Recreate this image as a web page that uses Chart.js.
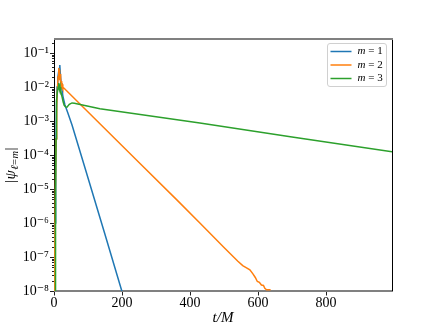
<!DOCTYPE html>
<html>
<head>
<meta charset="utf-8">
<script src="https://cdn.jsdelivr.net/npm/chart.js@4.4.1/dist/chart.umd.min.js"></script>
<style>
html,body{margin:0;padding:0;background:#fff}
#wrap{width:436px;height:327px}
</style>
</head>
<body>
<div id="wrap"><canvas id="chart" width="436" height="327"></canvas></div>
<script>
// ---- data ----
const seriesLabels=['m = 1','m = 2','m = 3'];
const seriesColors=['#1f77b4','#ff7f0e','#2ca02c'];

const tM1=[0,3,5,7,9,11,13,15,17,19,21,23,26,29,32,40,53,91,150,205];
const vM1=[1e-9,1e-6,5e-5,2e-3,1e-2,1.8e-2,2.5e-2,3.5e-2,4.4e-2,2.2e-2,1.3e-2,9e-3,5.5e-3,4e-3,3e-3,1.8e-3,7.6e-4,4.2e-5,4.6e-7,6.5e-9];

const tM2=[0,2,4,6,8,10,12,14,15,16,17,18,19,20,21,22,23,24,26,29,135,250,362,429,500,540,555,565,576,585,592,598,604,610,616,620,625,637];
const vM2=[1e-9,1e-7,1e-5,3e-4,3e-3,8e-3,2e-2,3.6e-2,2.2e-2,3.2e-2,1.6e-2,2.4e-2,1.3e-2,1.8e-2,1.1e-2,1.5e-2,1.0e-2,1.2e-2,9.8e-3,9.3e-3,8.3e-4,6e-5,4.7e-6,1e-6,1.9e-7,7.6e-8,5.6e-8,4.9e-8,4.2e-8,3.2e-8,2.5e-8,1.9e-8,1.8e-8,1.5e-8,1.45e-8,1.2e-8,1.08e-8,1.08e-8];

const tM3=[0,3,4,5,6,7,8,10,12,14,15,16,17,18,19,20,22,24,27,30,34,38,45,53,60,135,429,700,994];
const vM3=[1e-10,1e-9,1e-7,1e-5,3e-4,1.5e-3,4e-3,7e-3,1.0e-2,1.3e-2,9e-3,1.2e-2,8e-3,1.0e-2,7e-3,8e-3,6e-3,5e-3,3.6e-3,2.9e-3,2.6e-3,2.55e-3,3.1e-3,3.4e-3,3.35e-3,2.3e-3,8.7e-4,3.4e-4,1.25e-4];

const xTicks=[0,200,400,600,800];
const yDecades=[-8,-7,-6,-5,-4,-3,-2,-1];
const yMinor=[2,3,4,5,6,7,8,9];
const xMin=0,xMax=994,yMin=1e-8,yMax=0.258;

// ---- helpers ----
const serif='"Liberation Serif","DejaVu Serif",serif';
const supMap={'-':'\u207B','0':'\u2070','1':'\u00B9','2':'\u00B2','3':'\u00B3','4':'\u2074','5':'\u2075','6':'\u2076','7':'\u2077','8':'\u2078','9':'\u2079'};
const sup=s=>String(s).split('').map(c=>supMap[c]||c).join('');

const series=[[tM1,vM1],[tM2,vM2],[tM3,vM3]];

// spines and outward tick marks like matplotlib
const framePlugin={
  id:'frame',
  beforeDatasetsDraw(chart){
    const {ctx,chartArea:a}=chart;
    ctx.save();
    ctx.fillStyle='#808080';
    ctx.fillRect(a.left,a.bottom-1,a.right-a.left+1,2);
    ctx.fillStyle='#000';
    ctx.fillRect(a.left,a.top-1,1,a.bottom-a.top+1);
    ctx.restore();
  },
  afterDatasetsDraw(chart){
    const {ctx,chartArea:a,scales:{x,y}}=chart;
    ctx.save();
    ctx.fillStyle='#222';
    x.ticks.forEach(t=>{
      const px=Math.round(x.getPixelForValue(t.value));
      ctx.fillRect(px,a.bottom+1,1,3.5);
    });
    y.ticks.forEach(t=>{
      const py=Math.round(y.getPixelForValue(t.value));
      const len=t.big?4:2;
      ctx.fillRect(a.left-len,py,len,1);
    });
    ctx.fillStyle='#000';
    ctx.fillRect(a.right,a.top-1,1,a.bottom-a.top+1);
    ctx.fillStyle='#808080';
    ctx.fillRect(a.left,a.top-1,a.right-a.left+1,2);
    ctx.restore();
  },
  afterDraw(chart){
    const {ctx,chartArea:a}=chart;
    ctx.save();
    // y axis title |psi_{l=m}|
    ctx.translate(15,165);
    ctx.rotate(-Math.PI/2);
    ctx.fillStyle='#000';
    ctx.textBaseline='alphabetic';
    const big='15px '+serif, bigI='italic 15px '+serif, small='italic 10.5px '+serif;
    const parts=[['|',big,0],['\u03C8',bigI,0],['\u2113',small,3],['=',('10.5px '+serif),3],['m',small,3],['|',big,0]];
    let w=0;
    parts.forEach(p=>{ctx.font=p[1];w+=ctx.measureText(p[0]).width+0.5;});
    let cx=-w/2;
    parts.forEach(p=>{ctx.font=p[1];ctx.fillText(p[0],cx,p[2]);cx+=ctx.measureText(p[0]).width+0.5;});
    ctx.restore();

    // legend box in the upper right
    ctx.save();
    const bx=a.right-64.5,by=a.top+4.5,bw=59,bh=43;
    ctx.beginPath();
    ctx.roundRect(bx,by,bw,bh,2.5);
    ctx.fillStyle='rgba(255,255,255,0.8)';
    ctx.fill();
    ctx.strokeStyle='#d0d0d0';
    ctx.lineWidth=1;
    ctx.stroke();
    chart.data.datasets.forEach((ds,i)=>{
      const ry=by+8+i*13.5;
      ctx.strokeStyle=ds.borderColor;
      ctx.lineWidth=1.5;
      ctx.beginPath();
      ctx.moveTo(bx+3,ry);ctx.lineTo(bx+24,ry);
      ctx.stroke();
      const [name,val]=ds.label.split(' = ');
      ctx.fillStyle='#000';
      ctx.textBaseline='middle';
      ctx.font='italic 11px '+serif;
      ctx.fillText(name,bx+30,ry);
      const mw=ctx.measureText(name).width;
      ctx.font='11px '+serif;
      ctx.fillText(' = '+val,bx+30+mw,ry);
    });
    ctx.restore();
  }
};

new Chart(document.getElementById('chart'),{
  type:'line',
  data:{
    datasets:series.map(([t,v],i)=>({
      label:seriesLabels[i],
      data:t.map((tt,j)=>({x:tt,y:v[j]})),
      borderColor:seriesColors[i],
      backgroundColor:seriesColors[i],
      borderWidth:1.5,
      pointRadius:0,
      tension:0,
      fill:false,
      order:2-i
    }))
  },
  options:{
    responsive:false,
    animation:false,
    devicePixelRatio:1,
    layout:{padding:{left:0,top:39,right:44,bottom:0}},
    plugins:{legend:{display:false},tooltip:{enabled:false}},
    scales:{
      x:{
        type:'linear',min:xMin,max:xMax,bounds:'data',
        afterBuildTicks:s=>{s.ticks=xTicks.map(v=>({value:v}));},
        afterFit:s=>{s.height=36;},
        grid:{display:false,drawTicks:false},
        border:{display:false},
        ticks:{color:'#000',padding:4,autoSkip:false,maxRotation:0,font:{family:serif,size:14},callback:v=>String(v)},
        title:{display:true,text:'t/M',color:'#000',font:{family:serif,size:15,style:'italic'},padding:{top:0,bottom:0}}
      },
      y:{
        type:'logarithmic',min:yMin,max:yMax,bounds:'data',
        afterBuildTicks:s=>{
          const ticks=[];
          yDecades.forEach(e=>{
            const base=Math.pow(10,e);
            ticks.push({value:base,big:true,lbl:'10'+sup(e)});
            yMinor.forEach(k=>{const v=k*base;if(v<=yMax)ticks.push({value:v,big:false,lbl:''});});
          });
          s.ticks=ticks;
        },
        afterFit:s=>{s.width=54;},
        grid:{display:false,drawTicks:false},
        border:{display:false},
        ticks:{color:'#000',padding:5,autoSkip:false,font:{family:serif,size:14},callback:(v,i,ticks)=>ticks[i].lbl||''}
      }
    }
  },
  plugins:[framePlugin]
});
</script>
</body>
</html>
